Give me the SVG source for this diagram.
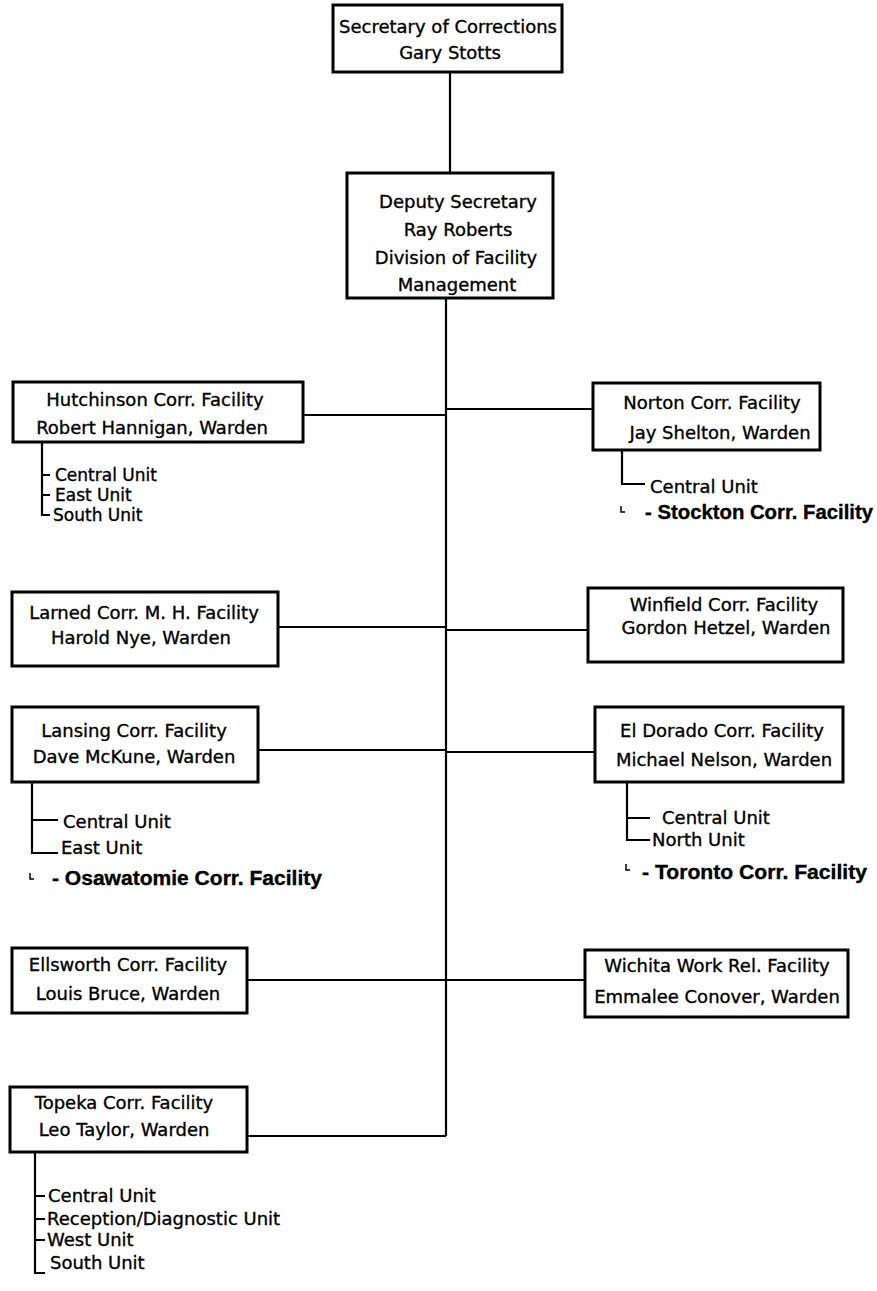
<svg xmlns="http://www.w3.org/2000/svg" width="877" height="1291" viewBox="0 0 877 1291">
<style>
.box{fill:#fff;stroke:#000;stroke-width:3}
.ln{fill:none;stroke:#000;stroke-width:2.2}
.t{font-family:"DejaVu Sans","Liberation Sans",sans-serif;font-size:18px;fill:#000;stroke:#000;stroke-width:0.35}
.s{font-size:17px}
.c{text-anchor:middle}
.b{font-family:"Liberation Sans","DejaVu Sans",sans-serif;font-weight:bold;font-size:20px}
</style>
<rect width="877" height="1291" fill="#fff"/>
<g id="connectors" class="ln">
<path d="M450 72V173"/>
<path d="M446 298V1136"/>
<path d="M303 415H446"/>
<path d="M446 409H593"/>
<path d="M278 627H446"/>
<path d="M446 630H588"/>
<path d="M258 750H446"/>
<path d="M446 752H595"/>
<path d="M247 980H446"/>
<path d="M446 980H585"/>
<path d="M247 1136H446"/>
<path d="M42 442V515H50M42 475H50M42 495H50"/>
<path d="M622 450V484H645"/>
<path d="M621 506V512H625" stroke-width="1.5"/>
<path d="M32 782V853H58M32 820H58"/>
<path d="M30 873V879H34" stroke-width="1.5"/>
<path d="M627 782V840H650M627 818H650"/>
<path d="M626 864V870H630" stroke-width="1.5"/>
<path d="M35 1152V1273H45M35 1196H45M35 1219H45M35 1240H45"/>
</g>
<g id="secretary">
<rect class="box" x="333" y="5" width="229" height="67"/>
<text class="t c" x="448" y="33">Secretary of Corrections</text>
<text class="t c" x="450" y="59">Gary Stotts</text>
</g>
<g id="deputy">
<rect class="box" x="347" y="173" width="206" height="125"/>
<text class="t c" x="458" y="208">Deputy Secretary</text>
<text class="t c" x="458" y="236">Ray Roberts</text>
<text class="t c" x="456" y="264">Division of Facility</text>
<text class="t c" x="457" y="291">Management</text>
</g>
<g id="hutchinson">
<rect class="box" x="13" y="382" width="290" height="60"/>
<text class="t c" x="155" y="406">Hutchinson Corr. Facility</text>
<text class="t c" x="152" y="434">Robert Hannigan, Warden</text>
<text class="t s" x="55" y="481">Central Unit</text>
<text class="t s" x="55" y="501">East Unit</text>
<text class="t s" x="53" y="521">South Unit</text>
</g>
<g id="norton">
<rect class="box" x="593" y="383" width="227" height="67"/>
<text class="t c" x="712" y="409">Norton Corr. Facility</text>
<text class="t c" x="720" y="439">Jay Shelton, Warden</text>
<text class="t" x="650" y="493">Central Unit</text>
<text class="t b" x="645" y="519" textLength="228" lengthAdjust="spacingAndGlyphs">- Stockton Corr. Facility</text>
</g>
<g id="larned">
<rect class="box" x="12" y="592" width="266" height="74"/>
<text class="t c" x="144" y="619">Larned Corr. M. H. Facility</text>
<text class="t c" x="141" y="644">Harold Nye, Warden</text>
</g>
<g id="winfield">
<rect class="box" x="588" y="588" width="255" height="74"/>
<text class="t c" x="724" y="611">Winfield Corr. Facility</text>
<text class="t c" x="726" y="634">Gordon Hetzel, Warden</text>
</g>
<g id="lansing">
<rect class="box" x="12" y="707" width="246" height="75"/>
<text class="t c" x="134" y="737">Lansing Corr. Facility</text>
<text class="t c" x="134" y="763">Dave McKune, Warden</text>
<text class="t" x="63" y="828">Central Unit</text>
<text class="t" x="61" y="854">East Unit</text>
<text class="t b" x="52" y="885" textLength="270" lengthAdjust="spacingAndGlyphs">- Osawatomie Corr. Facility</text>
</g>
<g id="eldorado">
<rect class="box" x="595" y="707" width="248" height="75"/>
<text class="t c" x="722" y="737">El Dorado Corr. Facility</text>
<text class="t c" x="724" y="766">Michael Nelson, Warden</text>
<text class="t" x="662" y="824">Central Unit</text>
<text class="t" x="652" y="846">North Unit</text>
<text class="t b" x="642" y="879" textLength="225" lengthAdjust="spacingAndGlyphs">- Toronto Corr. Facility</text>
</g>
<g id="ellsworth">
<rect class="box" x="12" y="948" width="235" height="65"/>
<text class="t c" x="128" y="971">Ellsworth Corr. Facility</text>
<text class="t c" x="128" y="1000">Louis Bruce, Warden</text>
</g>
<g id="wichita">
<rect class="box" x="585" y="950" width="263" height="67"/>
<text class="t c" x="717" y="972">Wichita Work Rel. Facility</text>
<text class="t c" x="717" y="1003">Emmalee Conover, Warden</text>
</g>
<g id="topeka">
<rect class="box" x="10" y="1087" width="237" height="65"/>
<text class="t c" x="124" y="1109">Topeka Corr. Facility</text>
<text class="t c" x="124" y="1136">Leo Taylor, Warden</text>
<text class="t" x="48" y="1202">Central Unit</text>
<text class="t" x="47" y="1225">Reception/Diagnostic Unit</text>
<text class="t" x="47" y="1246">West Unit</text>
<text class="t" x="50" y="1269">South Unit</text>
</g>
</svg>
